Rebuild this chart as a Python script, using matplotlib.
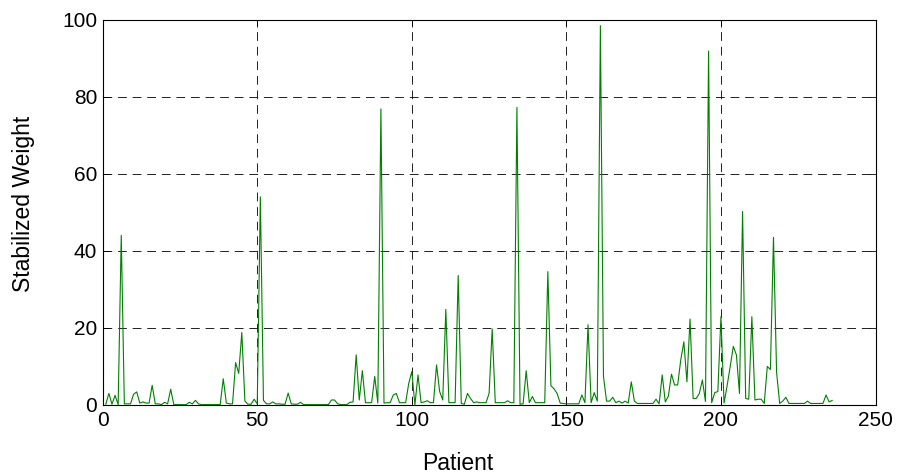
import numpy as np
import matplotlib
matplotlib.use("Agg")
import matplotlib.pyplot as plt

plt.rcParams['font.family'] = ['Liberation Sans', 'DejaVu Sans']

# stabilized weight per patient (patients 1..236)
weights = [
    0.2, 3.0, 0.2, 2.5, 0.1, 44.0, 0.3, 0.3, 0.3, 2.8,
    3.4, 0.5, 0.8, 0.5, 0.5, 5.1, 0.3, 0.3, 0.1, 0.7,
    0.3, 4.1, 0.1, 0.1, 0.1, 0.1, 0.1, 0.7, 0.3, 1.2,
    0.3, 0.1, 0.1, 0.1, 0.1, 0.1, 0.1, 0.1, 6.8, 0.5,
    0.3, 0.3, 11.0, 8.2, 18.8, 1.0, 0.2, 0.2, 1.5, 0.3,
    54.0, 1.2, 0.3, 0.3, 0.8, 0.3, 0.3, 0.2, 0.2, 3.1,
    0.3, 0.2, 0.2, 0.7, 0.1, 0.1, 0.1, 0.1, 0.1, 0.1,
    0.1, 0.1, 0.1, 1.3, 1.3, 0.3, 0.1, 0.1, 0.1, 0.7,
    0.8, 13.0, 1.3, 8.9, 0.6, 0.6, 0.6, 7.4, 0.5, 76.8,
    0.5, 0.6, 0.6, 2.6, 3.0, 0.6, 0.6, 0.6, 5.6, 8.7,
    0.0, 7.8, 0.6, 0.8, 1.1, 0.6, 0.6, 10.4, 3.5, 1.3,
    24.8, 0.6, 0.6, 0.6, 33.6, 0.4, 0.2, 3.0, 1.7, 0.6,
    0.8, 0.6, 0.6, 0.6, 3.0, 19.7, 0.6, 0.6, 0.6, 0.6,
    1.1, 0.6, 0.6, 77.2, 0.2, 0.3, 8.9, 0.6, 2.2, 0.6,
    0.6, 0.6, 0.6, 34.6, 5.0, 4.2, 3.0, 0.5, 0.4, 0.3,
    0.3, 0.3, 0.3, 0.3, 2.6, 0.6, 20.8, 0.6, 3.2, 1.0,
    98.4, 7.4, 1.0, 1.0, 2.0, 0.6, 1.0, 0.5, 1.0, 0.5,
    6.0, 1.0, 0.4, 0.4, 0.4, 0.4, 0.4, 0.4, 1.5, 0.3,
    7.8, 0.8, 2.3, 8.0, 5.2, 5.2, 11.7, 16.4, 6.0, 22.3,
    1.7, 1.7, 3.0, 6.5, 0.9, 91.8, 0.6, 3.2, 3.5, 22.9,
    0.5, 5.0, 10.0, 15.2, 13.0, 3.0, 50.2, 1.7, 1.5, 22.9,
    1.3, 1.5, 1.5, 0.4, 10.0, 9.2, 43.5, 8.5, 0.4, 1.0,
    2.0, 0.4, 0.4, 0.4, 0.4, 0.4, 0.4, 1.0, 0.4, 0.4,
    0.4, 0.4, 0.4, 2.6, 0.8, 1.2,
]
patients = np.arange(1, len(weights) + 1)

x_ticks = [0, 50, 100, 150, 200, 250]
y_ticks = [0, 20, 40, 60, 80, 100]

fig = plt.figure(figsize=(9.04, 4.74), dpi=100)
ax = fig.add_axes([102.7 / 904, 69 / 474, (875.5 - 102.7) / 904, (405 - 19.5) / 474])

ax.plot(patients, weights, color=(0, 0.5, 0), linewidth=0.8)

ax.set_xlim(0, 250)
ax.set_ylim(0, 100)
ax.set_xticks(x_ticks)
ax.set_yticks(y_ticks)
ax.grid(True, color='#202020', linestyle=(0, (9, 6)), linewidth=0.7)
ax.tick_params(direction='in', length=5, width=0.6, top=True, right=True,
               labelsize=15, pad=4, colors='black')
for s in ax.spines.values():
    s.set_linewidth(0.8)

ax.set_xlabel('Patient', fontsize=16.5, va='center')
ax.set_ylabel('Stabilized Weight', fontsize=16.5, va='center')
ax.xaxis.set_label_coords(0.46, -0.152)
ax.yaxis.set_label_coords(-0.102, 0.521)

fig.savefig('out.png', dpi=100)
